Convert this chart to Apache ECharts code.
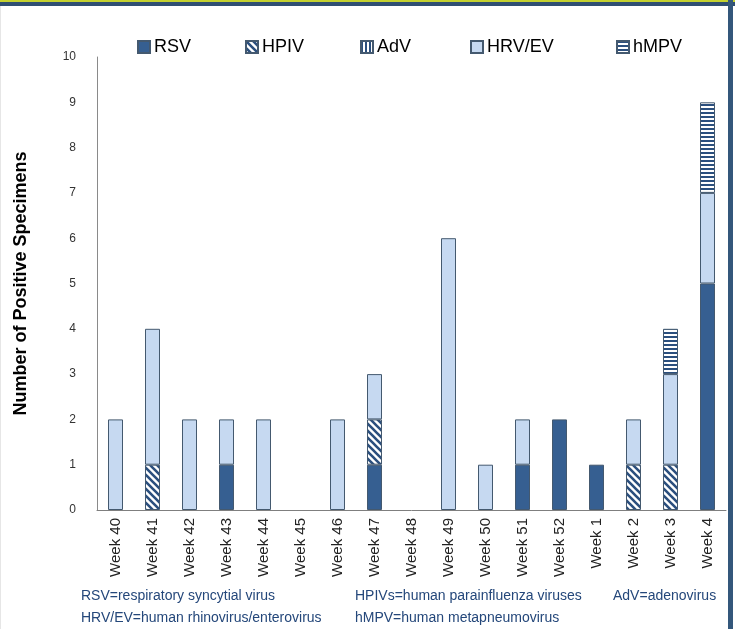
<!DOCTYPE html>
<html>
<head>
<meta charset="utf-8">
<script src="https://cdn.jsdelivr.net/npm/echarts@6/dist/echarts.min.js"></script>
<style>
  html, body { margin: 0; padding: 0; background: #fff; }
  #main { width: 735px; height: 629px; }
</style>
</head>
<body>
<div id="main"></div>
<script>
var weeks = ['Week 40', 'Week 41', 'Week 42', 'Week 43', 'Week 44', 'Week 45', 'Week 46', 'Week 47', 'Week 48',
  'Week 49', 'Week 50', 'Week 51', 'Week 52', 'Week 1', 'Week 2', 'Week 3', 'Week 4'];
var rsv   = [0, 0, 0, 1, 0, 0, 0, 1, 0, 0, 0, 1, 2, 1, 0, 0, 5];
var hpiv  = [0, 1, 0, 0, 0, 0, 0, 1, 0, 0, 0, 0, 0, 0, 1, 1, 0];
var adv   = [0, 0, 0, 0, 0, 0, 0, 0, 0, 0, 0, 0, 0, 0, 0, 0, 0];
var hrvEv = [2, 3, 2, 1, 2, 0, 2, 1, 0, 6, 1, 1, 0, 0, 1, 2, 2];
var hmpv  = [0, 0, 0, 0, 0, 0, 0, 0, 0, 0, 0, 0, 0, 0, 0, 1, 2];
var virusNames = ['RSV', 'HPIV', 'AdV', 'HRV/EV', 'hMPV'];
var notesLine1 = ['RSV=respiratory syncytial virus', 'HPIVs=human parainfluenza viruses', 'AdV=adenovirus'];
var notesLine2 = ['HRV/EV=human rhinovirus/enterovirus', 'hMPV=human metapneumovirus'];

var dark = '#2b4f7e';
var edge = '#44596f';

// little canvas tiles for the hatched fills
function stripes(kind) {
  var s = kind === 'diag' ? 7 : 4;
  var c = document.createElement('canvas');
  c.width = s; c.height = s;
  var g = c.getContext('2d');
  g.fillStyle = '#fff';
  g.fillRect(0, 0, s, s);
  g.fillStyle = dark;
  if (kind === 'h') g.fillRect(0, 0, s, 2);
  if (kind === 'v') g.fillRect(0, 0, 2, s);
  if (kind === 'diag') {
    g.strokeStyle = dark;
    g.lineWidth = 2.6;
    g.beginPath();
    g.moveTo(-2, -2); g.lineTo(s + 2, s + 2);
    g.moveTo(-2, s - 2); g.lineTo(2, s + 2);
    g.moveTo(s - 2, -2); g.lineTo(s + 2, 2);
    g.stroke();
  }
  return { image: c, repeat: 'repeat' };
}

function noZero(arr) {
  return arr.map(function (v) { return v === 0 ? '-' : v; });
}

function barSeries(name, data, fill) {
  return {
    name: name,
    type: 'bar',
    stack: 'all',
    barWidth: 15,
    data: noZero(data),
    itemStyle: { color: fill, borderColor: edge, borderWidth: 1 },
    emphasis: { disabled: true }
  };
}

// one legend per item so each sits where the original has it
var legendX = [132, 240, 355, 465, 611];
var legends = virusNames.map(function (n, i) {
  return {
    left: legendX[i],
    top: 33,
    icon: 'rect',
    itemWidth: 12,
    itemHeight: 12,
    itemGap: 0,
    textStyle: { fontSize: 18, color: '#000', padding: [0, 0, 0, -1] },
    data: [n]
  };
});

var noteFont = '14px "Liberation Sans", Arial, sans-serif';
var noteColor = '#24477a';
var noteX = [81, 355, 613];
var notes = [];
notesLine1.forEach(function (t, i) {
  notes.push({ type: 'text', left: noteX[i], top: 589, style: { text: t, font: noteFont, fill: noteColor } });
});
notesLine2.forEach(function (t, i) {
  notes.push({ type: 'text', left: noteX[i], top: 611, style: { text: t, font: noteFont, fill: noteColor } });
});

var chart = echarts.init(document.getElementById('main'));
chart.setOption({
  animation: false,
  backgroundColor: '#fff',
  textStyle: { fontFamily: '"Liberation Sans", Arial, sans-serif' },
  legend: legends,
  grid: { left: 97, right: 9, top: 57, bottom: 119 },
  xAxis: {
    type: 'category',
    data: weeks,
    axisLine: { lineStyle: { color: '#7f7f7f', width: 1 } },
    axisTick: { show: false },
    axisLabel: { rotate: 90, fontSize: 15, color: '#222', margin: 8 }
  },
  yAxis: {
    type: 'value',
    min: 0,
    max: 10,
    interval: 1,
    name: 'Number of Positive Specimens',
    nameLocation: 'middle',
    nameGap: 67,
    nameTextStyle: { fontSize: 18, fontWeight: 'bold', color: '#000' },
    axisLine: { show: true, lineStyle: { color: '#8a8a8a' } },
    axisTick: { show: false },
    splitLine: { show: false },
    axisLabel: { fontSize: 12, color: '#333', margin: 21 }
  },
  series: [
    barSeries('RSV', rsv, '#365f91'),
    barSeries('HPIV', hpiv, stripes('diag')),
    barSeries('AdV', adv, stripes('v')),
    barSeries('HRV/EV', hrvEv, '#c6d9f1'),
    barSeries('hMPV', hmpv, stripes('h'))
  ],
  graphic: [
    { type: 'rect', shape: { x: 0, y: 0, width: 735, height: 2 }, style: { fill: '#c4d12e' } },
    { type: 'rect', shape: { x: 0, y: 2, width: 735, height: 4 }, style: { fill: '#2f4f72' } },
    { type: 'rect', shape: { x: 728, y: 0, width: 5, height: 629 }, style: { fill: '#34577b' } },
    { type: 'rect', shape: { x: 0, y: 6, width: 1, height: 623 }, style: { fill: '#e6e6e6' } }
  ].concat(notes)
});
</script>
</body>
</html>
